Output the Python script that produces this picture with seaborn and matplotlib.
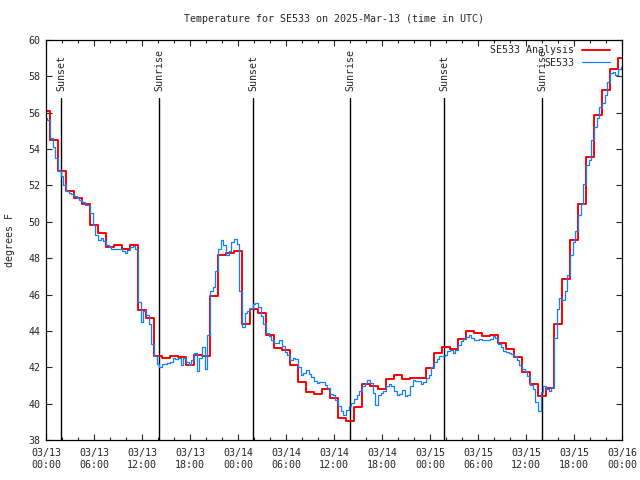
import numpy as np
import pandas as pd
import matplotlib
matplotlib.use("Agg")
import matplotlib.pyplot as plt
import seaborn as sns
from matplotlib.ticker import MultipleLocator, FixedLocator

# hourly analysis values, 03/13 00:00 .. 03/16 00:00 UTC (deg F)
analysis_temp = [
    56.1, 54.5, 52.8, 51.7, 51.3, 51.0, 49.8, 49.4, 48.6, 48.7, 48.5, 48.7,
    45.15, 44.7, 42.6, 42.5, 42.6, 42.55, 42.1, 42.7, 42.6, 45.9, 48.2, 48.3,
    48.4, 44.4, 45.2, 45.0, 43.77, 43.04, 42.93, 42.1, 41.19, 40.64, 40.53, 40.79,
    40.29, 39.19, 39.04, 39.8, 41.1, 40.97, 40.79, 41.34, 41.56, 41.37, 41.39, 41.39,
    41.94, 42.77, 43.1, 42.99, 43.54, 44.01, 43.87, 43.72, 43.76, 43.32, 42.99, 42.55,
    41.72, 41.06, 40.42, 40.86, 44.38, 46.85, 49.0, 50.98, 53.55, 55.86, 57.25, 58.4,
    59.0,
]

# station observations every 20 minutes (deg F)
obs_temp = [
    55.7, 55.6, 54.6,   54.1, 53.5, 52.8,   52.5, 52.0, 51.7,   51.6, 51.55, 51.4,
    51.3, 51.2, 51.1,   50.95, 50.9, 50.5,  49.8, 49.3, 49.0,   49.1, 48.95, 48.7,
    48.6, 48.5, 48.5,   48.5, 48.5, 48.4,   48.3, 48.45, 48.6,  48.65, 48.5, 45.6,
    44.5, 45.1, 44.9,   44.4, 43.3, 42.6,   42.2, 42.0, 42.2,   42.2, 42.25, 42.3,
    42.5, 42.45, 42.5,  42.1, 42.5, 42.3,   42.1, 42.4, 42.8,   41.8, 42.5, 43.1,
    41.9, 43.8, 46.2,   46.4, 47.3, 48.5,   49.0, 48.75, 48.2,  48.4, 48.9, 49.05,
    48.8, 46.2, 44.2,   44.97, 45.1, 45.25, 45.5, 45.55, 45.3,  44.8, 44.4, 43.9,
    43.7, 43.5, 43.35,  43.35, 43.5, 43.15, 42.85, 42.65, 42.4, 42.5, 42.45, 42.0,
    41.6, 41.7, 41.85,  41.65, 41.45, 41.25, 41.15, 41.2, 41.2,  41.0, 40.85, 40.55,
    40.45, 40.2, 39.85, 39.6, 39.4, 39.65,  39.85, 40.05, 40.25, 40.5, 40.7, 40.95,
    41.15, 41.3, 41.15, 40.6, 39.9, 40.45,  40.6, 40.7, 40.95,  41.1, 40.95, 40.7,
    40.5, 40.55, 40.75, 40.4, 40.5, 40.95,  41.3, 41.25, 41.25, 41.1, 41.2, 41.4,
    41.6, 42.0, 42.3,   42.45, 42.6, 42.6,  42.7, 42.9, 42.95,  42.8, 42.95, 43.25,
    43.45, 43.55, 43.65, 43.75, 43.6, 43.5, 43.5, 43.55, 43.5,  43.5, 43.5, 43.55,
    43.7, 43.6, 43.3,   43.1, 42.9, 42.85,  42.8, 42.75, 42.6,  42.4, 42.1, 41.9,
    41.8, 41.5, 41.0,   40.8, 40.1, 39.6,   40.65, 40.95, 40.8, 40.7, 40.9, 43.6,
    45.2, 45.8, 45.7,   46.2, 47.1, 48.2,   48.9, 49.5, 50.4,   51.0, 52.1, 53.1,
    53.4, 54.5, 55.2,   55.7, 56.3, 56.55,  56.95, 57.7, 58.2,  58.25, 58.1, 58.4,
    58.5,
]

# sunrise / sunset times (hours after 03/13 00:00 UTC)
sun_hours = [1.92, 14.12, 25.9, 38.0, 49.8, 62.04]
sun_labels = ["Sunset", "Sunrise", "Sunset", "Sunrise", "Sunset", "Sunrise"]

tick_labels = [
    "03/13\n00:00", "03/13\n06:00", "03/13\n12:00", "03/13\n18:00",
    "03/14\n00:00", "03/14\n06:00", "03/14\n12:00", "03/14\n18:00",
    "03/15\n00:00", "03/15\n06:00", "03/15\n12:00", "03/15\n18:00",
    "03/16\n00:00",
]

analysis = pd.DataFrame({"hour": np.arange(len(analysis_temp)), "temp": analysis_temp})
obs = pd.DataFrame({"hour": np.arange(len(obs_temp)) / 3.0, "temp": obs_temp})

sns.set_style("ticks")
plt.rcParams["font.family"] = ["DejaVu Sans Mono"]
plt.rcParams["font.size"] = 7.2

fig = plt.figure(figsize=(6.4, 4.8), dpi=100)
ax = fig.add_axes([46 / 640, 40 / 480, 576 / 640, 400 / 480])

sns.lineplot(data=analysis, x="hour", y="temp", ax=ax, color="#ff0000",
             linewidth=1.4, drawstyle="steps-mid", label="SE533 Analysis")
sns.lineplot(data=obs, x="hour", y="temp", ax=ax, color="#1080ff",
             linewidth=0.9, drawstyle="steps-mid", label="SE533")

# sunrise / sunset markers
for h, lab in zip(sun_hours, sun_labels):
    ax.plot([h, h], [38, 56.8], color="black", linewidth=1.0, zorder=1)
    ax.text(h, 57.2, lab, rotation=90, ha="center", va="bottom", fontsize=7.2)

ax.set_xlim(0, 72)
ax.set_ylim(38, 60)
ax.xaxis.set_major_locator(FixedLocator(np.arange(0, 73, 6)))
ax.set_xticklabels(tick_labels)
ax.xaxis.set_minor_locator(MultipleLocator(2))
ax.yaxis.set_major_locator(MultipleLocator(2))
ax.tick_params(which="both", direction="in", top=True, right=True, width=0.8)
ax.tick_params(which="major", length=4.5)
ax.tick_params(which="minor", length=2.5)
ax.tick_params(axis="x", pad=6, labelsize=7.2)
ax.tick_params(axis="y", pad=4, labelsize=7.2)
for s in ax.spines.values():
    s.set_linewidth(0.9)
    s.set_color("black")

ax.set_xlabel("")
ax.set_ylabel("")
fig.text(10 / 640, 0.5, "degrees F", rotation=90, ha="center", va="center", fontsize=7.2)
fig.text(334 / 640, 1 - 19 / 480, "Temperature for SE533 on 2025-Mar-13 (time in UTC)",
         ha="center", va="center", fontsize=7.2)

ax.legend(loc="upper right", bbox_to_anchor=(610 / 640, 1 - 45 / 480),
          bbox_transform=fig.transFigure, frameon=False, markerfirst=False,
          borderpad=0, borderaxespad=0, handlelength=2.8, handletextpad=0.8,
          labelspacing=0.25, fontsize=7.2)

fig.savefig("out.png", dpi=100)
